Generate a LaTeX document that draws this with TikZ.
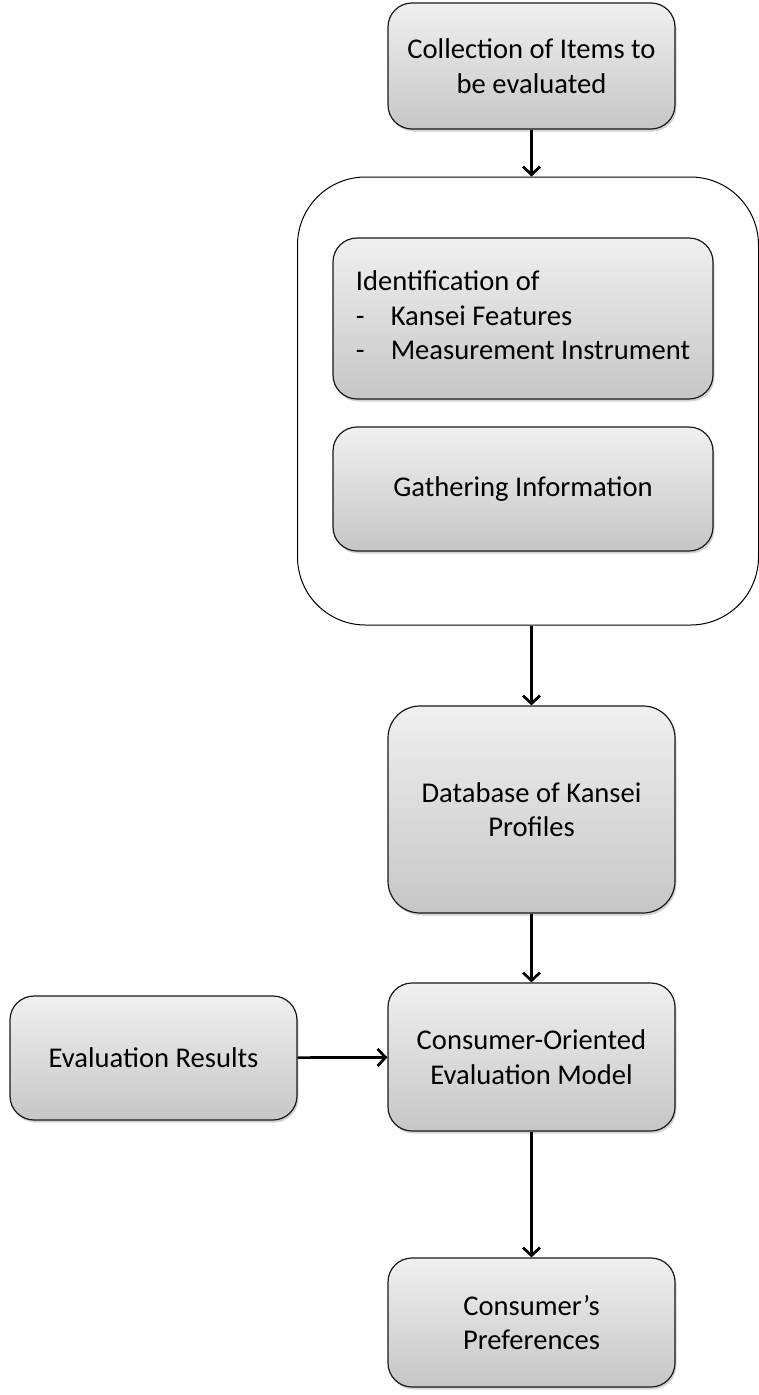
\documentclass[tikz,border=0pt]{standalone}
\usepackage{fontspec}
\setmainfont{Carlito}
\usetikzlibrary{arrows.meta,shadows}
\definecolor{boxtop}{HTML}{F0F0F0}
\definecolor{boxbot}{HTML}{C6C6C6}
\tikzset{
  stage/.style={draw=black!90, line width=1.2pt, rounded corners=24pt,
    top color=boxtop, bottom color=boxbot,
    drop shadow={shadow xshift=1.5pt, shadow yshift=-2.5pt, opacity=0.35},
    align=center, inner sep=0pt, font=\fontsize{28.6}{34.5}\selectfont},
  flow/.style={-{Straight Barb[length=8pt,width=17pt]}, line width=2.7pt}
}
\begin{document}
\begin{tikzpicture}[x=1pt,y=-1pt]
  \useasboundingbox (0,0) rectangle (759,1395);
  % Items
  \node[stage, minimum width=287pt, minimum height=126pt] (items) at (531.5,66) {Collection of Items to\\be evaluated};
  % Container round the two steps
  \node[draw, line width=1pt, rounded corners=68pt, minimum width=461pt, minimum height=448pt] (group) at (528,401) {};
  \node[stage, minimum width=380pt, minimum height=161pt] (ident) at (523,318.5)
    {\begin{tabular}{@{}l@{}}Identification of\\\makebox[35pt][l]{-}Kansei Features\\\makebox[35pt][l]{-}Measurement Instrument\end{tabular}};
  \node[stage, minimum width=380pt, minimum height=124pt] (gather) at (523,489) {Gathering Information};
  % Lower steps
  \node[stage, rounded corners=32pt, minimum width=287pt, minimum height=207pt] (db) at (531.5,809.5) {Database of Kansei\\Profiles};
  \node[stage, minimum width=287pt, minimum height=148pt] (model) at (531.5,1057) {Consumer-Oriented\\Evaluation Model};
  \node[stage, minimum width=287pt, minimum height=124pt] (evalres) at (153.5,1058) {Evaluation Results};
  \node[stage, minimum width=287pt, minimum height=129pt] (prefs) at (531.5,1322.5) {Consumer’s\\Preferences};
  % Arrows
  \draw[flow] (items.south) -- (items.south |- group.north);
  \draw[flow] (db.north |- group.south) -- (db.north);
  \draw[flow] (db) -- (model);
  \draw[flow] (evalres) -- (model);
  \draw[flow] (model) -- (prefs);
\end{tikzpicture}
\end{document}
